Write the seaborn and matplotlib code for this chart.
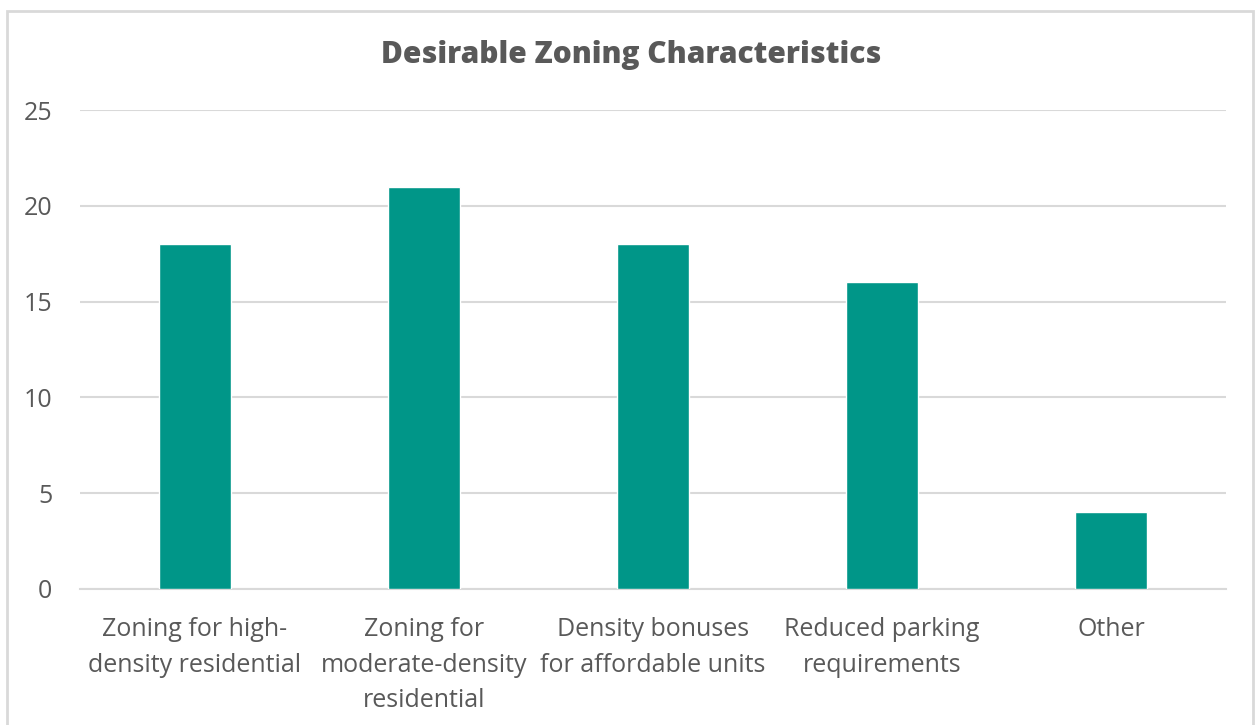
import matplotlib
matplotlib.use("Agg")
import matplotlib.pyplot as plt
import seaborn as sns
import pandas as pd
from matplotlib.patches import Rectangle

categories = [
    "Zoning for high-\ndensity residential",
    "Zoning for\nmoderate-density\nresidential",
    "Density bonuses\nfor affordable units",
    "Reduced parking\nrequirements",
    "Other",
]
counts = [18, 21, 18, 16, 4]
y_ticks = [0, 5, 10, 15, 20, 25]

title = "Desirable Zoning Characteristics"
bar_color = "#009688"
text_color = "#595959"
grid_color = "#d9d9d9"

sns.set_theme(style="white")
plt.rcParams["font.family"] = ["Open Sans", "DejaVu Sans"]

df = pd.DataFrame({"category": categories, "count": counts})

fig = plt.figure(figsize=(12.56, 7.25), dpi=100)
ax = fig.add_axes([80 / 1256, 1 - 589 / 725, (1226 - 80) / 1256, (589 - 110) / 725])

sns.barplot(data=df, x="category", y="count", color=bar_color, width=0.314,
            saturation=1, ax=ax, zorder=3)

ax.set_xlim(-0.5, len(categories) - 0.5)
ax.set_ylim(0, 25)
ax.set_yticks(y_ticks)
ax.set_yticklabels([str(t) for t in y_ticks])
ax.set_xlabel("")
ax.set_ylabel("")

ax.grid(axis="y", color=grid_color, linewidth=1.5, zorder=0)
ax.grid(axis="x", visible=False)
for side in ["top", "left", "right"]:
    ax.spines[side].set_visible(False)
ax.spines["bottom"].set_color(grid_color)
ax.spines["bottom"].set_linewidth(1.5)

ax.tick_params(axis="y", length=0, pad=20, labelsize=18, labelcolor=text_color)
ax.tick_params(axis="x", length=0, pad=20.5, labelsize=18, labelcolor=text_color)
for lbl in ax.get_xticklabels():
    lbl.set_linespacing(1.55)

fig.text(631 / 1256, 1 - 55 / 725, title, ha="center", va="center",
         fontsize=21.5, fontweight="heavy", color=text_color)

# light frame around the chart area
frame = Rectangle((7 / 1256, -0.05), (1253 - 7) / 1256, 1 - 11 / 725 + 0.05,
                  transform=fig.transFigure, fill=False, edgecolor=grid_color,
                  linewidth=2)
fig.patches.append(frame)

fig.savefig("out.png", dpi=100)
